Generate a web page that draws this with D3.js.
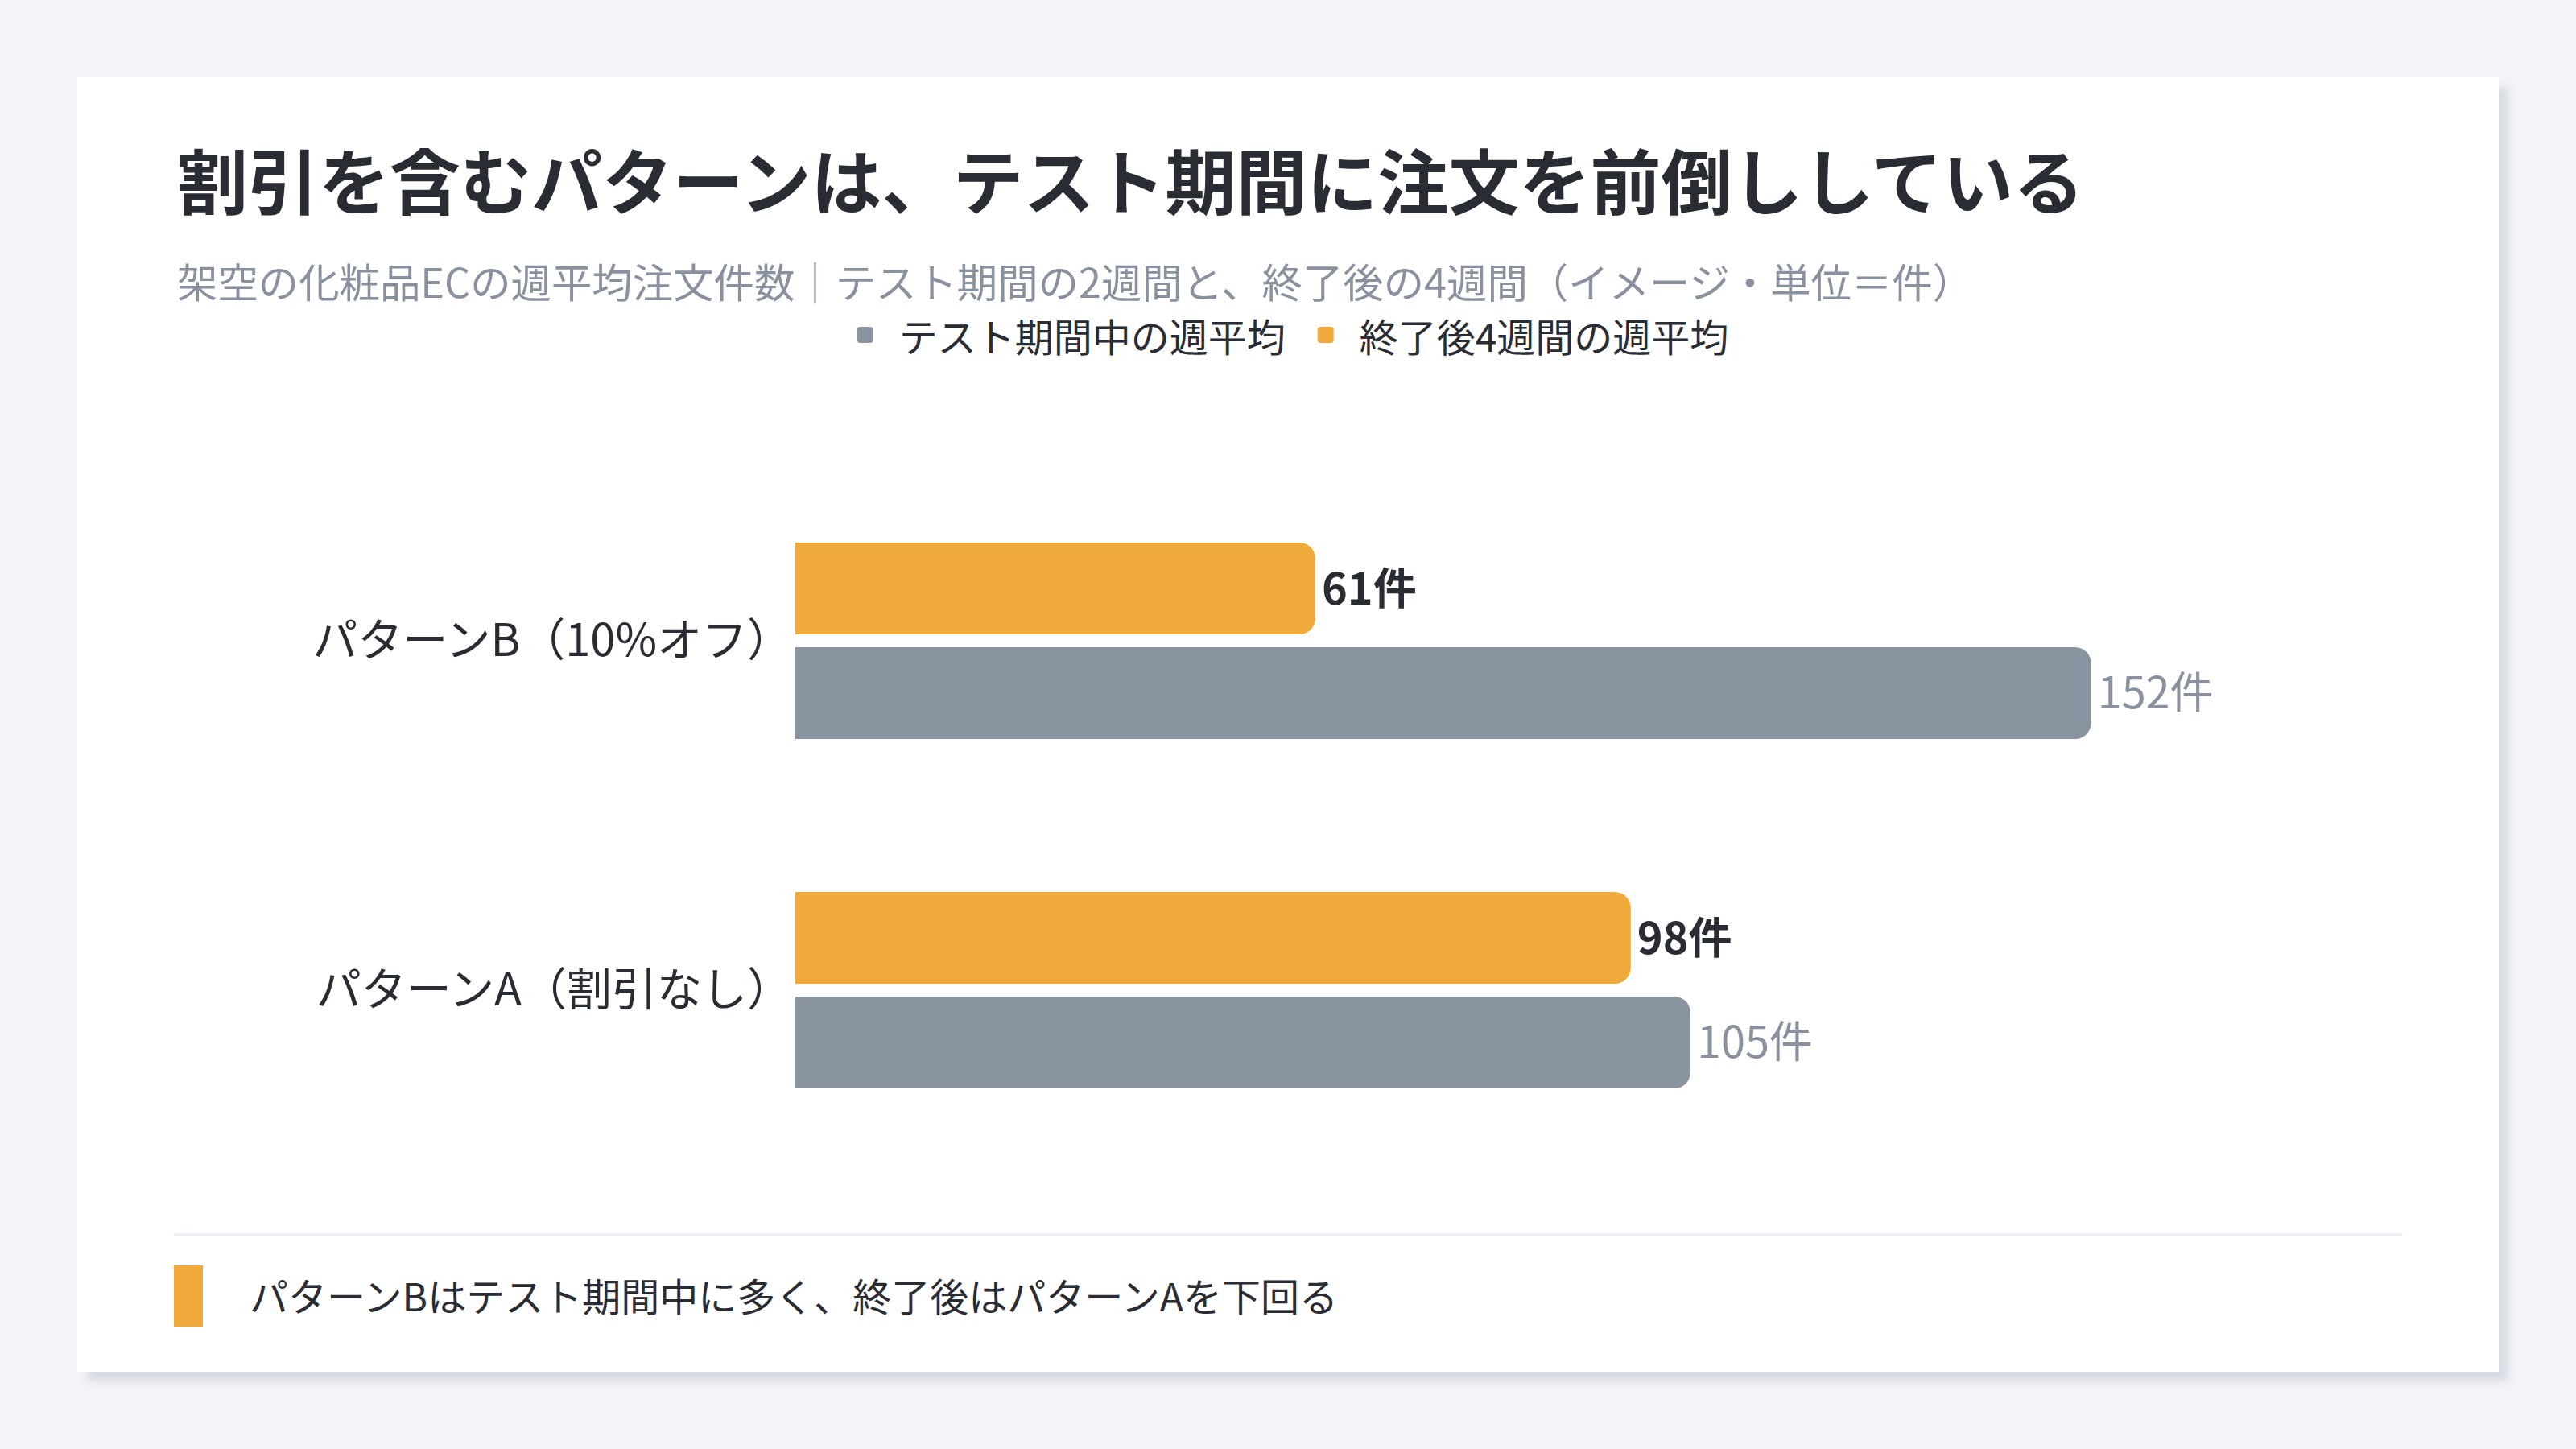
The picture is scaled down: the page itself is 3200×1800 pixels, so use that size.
<!DOCTYPE html>
<html>
<head>
<meta charset="utf-8">
<script src="https://cdn.jsdelivr.net/npm/d3@7"></script>
<style>
  html, body { margin: 0; padding: 0; background: #f3f4f8; }
  svg { display: block; }
  text { font-family: "Noto Sans CJK JP", "Noto Sans", sans-serif; }
</style>
</head>
<body>
<script>
// data
var categories = ["パターンB（10%オフ）", "パターンA（割引なし）"];
var seriesKeys = ["after", "during"];
var seriesNames = ["終了後4週間の週平均", "テスト期間中の週平均"];
var afterValues = [61, 98];
var duringValues = [152, 105];
var unitLabel = "件";

var titleText = "割引を含むパターンは、テスト期間に注文を前倒ししている";
var subtitleText = "架空の化粧品ECの週平均注文件数｜テスト期間の2週間と、終了後の4週間（イメージ・単位＝件）";
var noteText = "パターンBはテスト期間中に多く、終了後はパターンAを下回る";

var colors = { after: "#f0a93b", during: "#8a93a0" };

var svg = d3.select("body").append("svg")
.attr("width", 3200)
.attr("height", 1800)
.attr("viewBox", "0 0 1600 900");

// card shadow + card
var defs = svg.append("defs");
defs.append("filter")
.attr("id", "soft")
.attr("x", "-5%").attr("y", "-5%").attr("width", "110%").attr("height", "110%")
.append("feGaussianBlur")
.attr("stdDeviation", 2.5);

svg.append("rect")
.attr("x", 54)
.attr("y", 54)
.attr("width", 1504)
.attr("height", 804)
.attr("fill", "#d9dce3")
.attr("filter", "url(#soft)");

svg.append("rect")
.attr("x", 48)
.attr("y", 48)
.attr("width", 1504)
.attr("height", 804)
.attr("fill", "#ffffff");

// Title
svg.append("text")
.attr("x", 110)
.attr("y", 110)
.attr("dominant-baseline", "central")
.attr("font-size", 44)
.attr("font-weight", 700)
.attr("fill", "#2a2c33")
.text(titleText);

// Subtitle
svg.append("text")
.attr("x", 110)
.attr("y", 174)
.attr("dominant-baseline", "central")
.attr("font-size", 25.2)
.attr("fill", "#8a919e")
.text(subtitleText);

// Legend (gray first, then orange)
var legendItems = [
  { key: "during", name: seriesNames[1] },
  { key: "after", name: seriesNames[0] }
];
var legend = svg.append("g");
var lx = 0;
legendItems.forEach(function(d, i) {
  var g = legend.append("g").attr("transform", "translate(" + lx + ",0)");
  g.append("rect")
  .attr("x", 0)
  .attr("y", -5)
  .attr("width", 10)
  .attr("height", 10)
  .attr("rx", 2)
  .attr("fill", colors[d.key]);
  var t = g.append("text")
  .attr("x", 26)
  .attr("y", 0)
  .attr("dominant-baseline", "central")
  .attr("font-size", 24)
  .attr("fill", "#2a2c33")
  .text(d.name);
  lx += 26 + t.node().getComputedTextLength() + 20;
});
var legendWidth = lx - 20;
legend.attr("transform", "translate(" + (803 - legendWidth / 2) + ",208)");

// scales
var x = d3.scaleLinear()
.domain([0, d3.max(duringValues) * 1.24])
.range([494, 1492]);

var yGroup = d3.scalePoint()
.domain(categories)
.range([398, 615]);

var ySeries = d3.scaleBand()
.domain(seriesKeys)
.range([-61, 61])
.paddingInner(0.123);

// bar with rounded right end only
function barPath(x0, x1, y0, h, r) {
  r = Math.min(r, (x1 - x0), h / 2);
  return "M" + x0 + "," + y0 +
    "H" + (x1 - r) +
    "A" + r + "," + r + " 0 0 1 " + x1 + "," + (y0 + r) +
    "V" + (y0 + h - r) +
    "A" + r + "," + r + " 0 0 1 " + (x1 - r) + "," + (y0 + h) +
    "H" + x0 + "Z";
}

var rows = categories.map(function(c, i) {
  return { cat: c, after: afterValues[i], during: duringValues[i] };
});

var groups = svg.selectAll(".group")
.data(rows)
.enter().append("g")
.attr("class", "group")
.attr("transform", function(d) { return "translate(0," + yGroup(d.cat) + ")"; });

// category labels
groups.append("text")
.attr("x", x(0) - 2)
.attr("y", -3)
.attr("text-anchor", "end")
.attr("dominant-baseline", "central")
.attr("font-size", 28)
.attr("fill", "#2a2c33")
.text(function(d) { return d.cat; });

seriesKeys.forEach(function(key) {
  groups.append("path")
  .attr("d", function(d) {
    return barPath(x(0), x(d[key]), ySeries(key), ySeries.bandwidth(), 10);
  })
  .attr("fill", colors[key]);

  groups.append("text")
  .attr("x", function(d) { return x(d[key]) + 4; })
  .attr("y", ySeries(key) + ySeries.bandwidth() / 2 - 2)
  .attr("dominant-baseline", "central")
  .attr("font-size", 27)
  .attr("font-weight", key === "after" ? 700 : 400)
  .attr("fill", key === "after" ? "#2a2c33" : "#8a919e")
  .text(function(d) { return d[key] + unitLabel; });
});

// separator
svg.append("rect")
.attr("x", 108)
.attr("y", 766)
.attr("width", 1384)
.attr("height", 2)
.attr("fill", "#eceff3");

// footer note
svg.append("rect")
.attr("x", 108)
.attr("y", 786)
.attr("width", 18)
.attr("height", 38)
.attr("fill", colors.after);

svg.append("text")
.attr("x", 155)
.attr("y", 804)
.attr("dominant-baseline", "central")
.attr("font-size", 24)
.attr("fill", "#2a2c33")
.text(noteText);
</script>
</body>
</html>
